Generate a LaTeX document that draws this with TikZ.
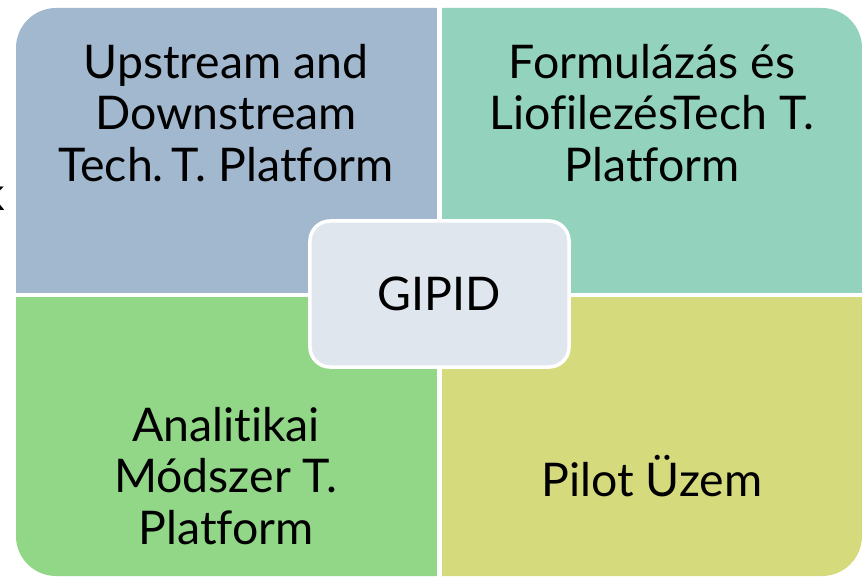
\documentclass[tikz,border=0pt]{standalone}
\usepackage{fontspec}
\setmainfont{Lato}[Ligatures=NoCommon]
\usepackage{tikz}
\usetikzlibrary{positioning}

\definecolor{upblue}{RGB}{162,184,207}
\definecolor{formgreen}{RGB}{147,210,188}
\definecolor{anagreen}{RGB}{146,214,136}
\definecolor{pilotyellow}{RGB}{213,218,125}
\definecolor{hubgray}{RGB}{224,230,238}

\begin{document}
\begin{tikzpicture}[x=0.025cm,y=-0.025cm,
  quad/.style={inner sep=0pt,outer sep=0pt,minimum width=10.525cm,minimum height=7.2cm},
  label/.style={align=center,font=\fontsize{33}{36.5}\selectfont,inner sep=0pt},
  hub/.style={draw=white,line width=2.5pt,fill=hubgray,rounded corners=0.5cm,
    minimum width=6.475cm,minimum height=3.65cm,font=\fontsize{33}{36.5}\selectfont}]

  \useasboundingbox (0,0) rectangle (865,577);

  \begin{scope}
    \clip[rounded corners=1cm] (16,8) rectangle (862,576);
    \node[quad,fill=upblue,anchor=south east] (q1) at (437,293) {};
    \node[quad,fill=formgreen,anchor=south west] (q2) at (442,293) {};
    \node[quad,fill=anagreen,anchor=north east] (q3) at (437,297) {};
    \node[quad,fill=pilotyellow,anchor=north west] (q4) at (442,297) {};
  \end{scope}

  \node[label] (up) at (226,113) {Upstream and\\Downstream\\Tech.\,T. Platform};
  \node[label] (form) at (652,113) {Formulázás és\\LiofilezésTech T.\\Platform};
  \node[label] (ana) at (226,476) {Analitikai\\Módszer T.\\Platform};
  \node[label] (pilot) at (652,476) {Pilot Üzem};

  \node[hub] (gipid) at (439.5,294) {GIPID};

  \node[font=\fontsize{33}{36.5}\selectfont,inner sep=0pt,anchor=base east] (stray) at (5,210) {k};
\end{tikzpicture}
\end{document}
